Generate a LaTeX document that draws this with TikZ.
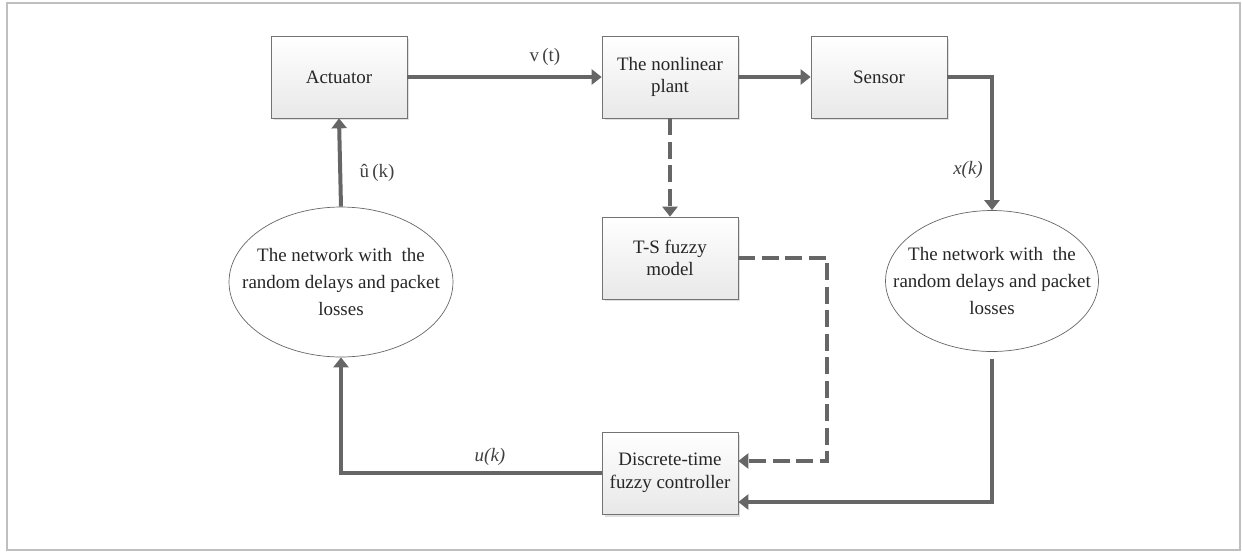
\documentclass[tikz,border=0pt]{standalone}
\usepackage{fontspec}
\setmainfont{Liberation Serif}
\usetikzlibrary{shapes.geometric, arrows.meta, shadows, calc}

\tikzset{
    blockbox/.style={draw=black!55, rectangle, top color=white, bottom color=black!9,
        minimum width=2.72cm, minimum height=1.64cm, align=center, inner sep=1pt,
        font=\fontsize{10.8}{12.8}\selectfont, text=black!85,
        drop shadow={shadow xshift=0.05cm, shadow yshift=-0.05cm, fill=black!12, opacity=1}},
    netellipse/.style={draw=black!60, ellipse, inner sep=0pt},
    nettext/.style={align=center, inner sep=0pt,
        font=\fontsize{10.8}{15.3}\selectfont, text=black!85},
    flow/.style={draw=black!60, line width=0.08cm, -{Triangle[length=0.2cm, width=0.3cm]}},
    flowdash/.style={flow, dash pattern=on 0.34cm off 0.13cm},
    siglabel/.style={font=\fontsize{10.8}{12}\selectfont, text=black!75}
}

\begin{document}
\begin{tikzpicture}[x=0.02cm, y=-0.02cm]
    \useasboundingbox (0,0) rectangle (1242,552);
    % outer frame
    \draw[black!25, line width=1.2pt] (7,3) rectangle (1240,550);

    % blocks of the upper row
    \node[blockbox] (act) at (339,77) {Actuator};
    \node[blockbox] (plant) at (670,77) {The nonlinear\\plant};
    \node[blockbox] (sensor) at (879,77) {Sensor};

    % model and controller
    \node[blockbox] (ts) at (670,258) {T-S fuzzy\\model};
    \node[blockbox] (ctrl) at (670,473) {Discrete-time\\fuzzy controller};

    % the two networks
    \node[netellipse, minimum width=4.48cm, minimum height=3cm] (netl) at (341,282) {};
    \node[nettext] (netltext) at (netl.center)
        {The network with\ \ the\\random delays and packet\\losses};
    \node[netellipse, minimum width=4.26cm, minimum height=2.82cm] (netr) at (992,281) {};
    \node[nettext] (netrtext) at (netr.center)
        {The network with\ \ the\\random delays and packet\\losses};

    % forward path
    \draw[flow] (act.east) -- (plant.west);
    \draw[flow] (plant.east) -- (sensor.west);
    \draw[flow] (sensor.east) -| (netr.north);
    \draw[flow, shorten <=0.14cm] (netr.south) |- ($(ctrl.east)+(0,29)$);

    % fuzzy model path
    \draw[flowdash] (plant.south) -- (ts.north);
    \coordinate (tsbend) at (827,258);
    \draw[flowdash] (ts.east) -- (tsbend) |- ($(ctrl.east)+(0,-12)$);

    % feedback path
    \draw[flow] (ctrl.west) -| (netl.south);
    \draw[flow] (netl.north) -- (act.south);

    % signal labels
    \node[siglabel] (vt) at (545,57) {v\,(t)};
    \node[siglabel] (uhat) at (377,173) {û\,(k)};
    \node[siglabel] (xk) at (968,170) {\textit{x(k)}};
    \node[siglabel] (uk) at (490,457) {\textit{u(k)}};
\end{tikzpicture}
\end{document}
